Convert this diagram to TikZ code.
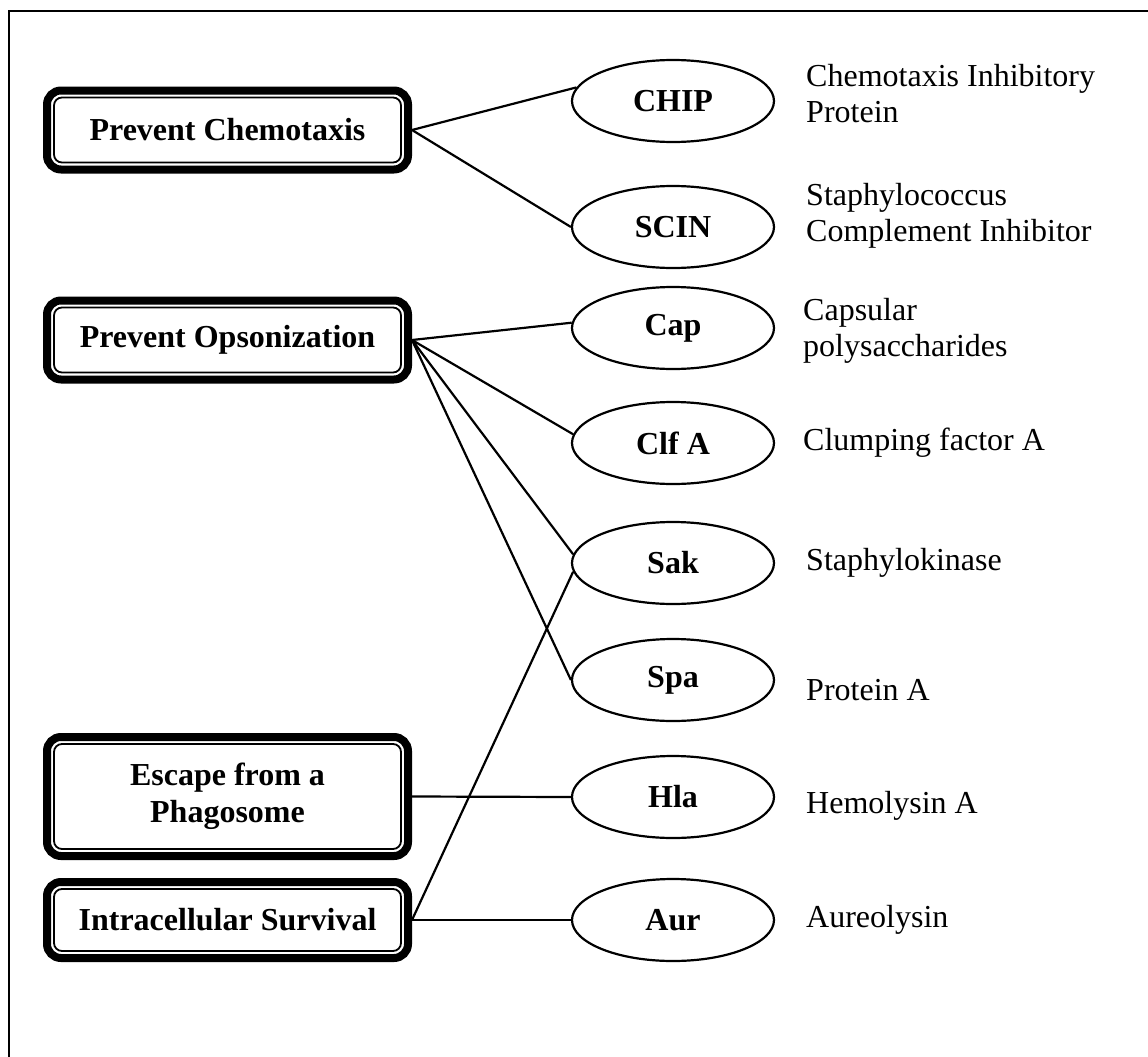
\documentclass[tikz,border=0pt]{standalone}
\usepackage{fontspec}
\setmainfont{Liberation Serif}
\usetikzlibrary{shapes.geometric}
\begin{document}
\begin{tikzpicture}[x=1pt,y=-1pt,
  goalbox/.style={draw, line width=8pt, outer sep=4pt, rounded corners=14pt,
    minimum width=361pt, minimum height=79pt, align=center, inner sep=0pt,
    font=\fontsize{32}{37}\selectfont\bfseries},
  factor/.style={ellipse, draw, line width=2.2pt, outer sep=1.1pt,
    minimum width=202pt, minimum height=82pt, inner sep=0pt,
    font=\fontsize{32}{37}\selectfont\bfseries},
  desc/.style={anchor=west, align=left, inner sep=0pt,
    font=\fontsize{32}{36}\selectfont},
  link/.style={line width=2.2pt},
  innerline/.style={line width=1.8pt, rounded corners=8pt},
  frame/.style={line width=2.2pt}]
\fill[white] (0,0) rectangle (1148,1057);
\useasboundingbox (0,0) rectangle (1148,1057);
\draw[frame] (9,1057) -- (9,11) -- (1148,11);

% goal boxes
\node[goalbox] (pc) at (227.5,130) {Prevent Chemotaxis};
\node[goalbox] (po) at (227.5,340) {Prevent Opsonization};
\node[goalbox, minimum height=119pt] (ep) at (227.5,796.5) {Escape from a\\Phagosome};
\node[goalbox, minimum height=76pt] (is) at (227.5,920) {Intracellular Survival};
\foreach \n in {pc,po,ep,is}
  \draw[innerline] ([shift={(11pt,11pt)}]\n.south west) rectangle ([shift={(-11pt,-11pt)}]\n.north east);

% factors
\node[factor] (chip) at (673,101) {CHIP};
\node[factor] (scin) at (673,227) {SCIN};
\node[factor] (cap)  at (673,328) {Cap};
\node[factor] (clf)  at (673,443) {Clf A};
\node[factor] (sak)  at (673,563) {Sak};
\node[factor] (spa)  at (673,680) {Spa};
\node[factor] (hla)  at (673,797) {Hla};
\node[factor] (aur)  at (673,920) {Aur};

% descriptions
\node[desc] (dchip) at (806,94)  {Chemotaxis Inhibitory\\Protein};
\node[desc] (dscin) at (806,216) {Staphylococcus\\Complement Inhibitor};
\node[desc] (dcap)  at (803,331) {Capsular\\polysaccharides};
\node[desc] (dclf)  at (803,443) {Clumping factor A};
\node[desc] (dsak)  at (806,563) {Staphylokinase};
\node[desc] (dspa)  at (806,690) {Protein A};
\node[desc] (dhla)  at (806,806) {Hemolysin A};
\node[desc] (daur)  at (806,920) {Aureolysin};

% connectors
\draw[link] (pc.east) -- (chip.172);
\draw[link] (pc.east) -- (scin.west);
\draw[link] (po.east) -- (cap.177);
\draw[link] (po.east) -- (clf.175);
\draw[link] (po.east) -- (sak.175);
\draw[link] (po.east) -- (spa.west);
\draw[link] (ep.east) -- (hla.west);
\draw[link] (is.east) -- (aur.west);
\draw[link] (is.east) -- (sak.185);
\end{tikzpicture}
\end{document}
